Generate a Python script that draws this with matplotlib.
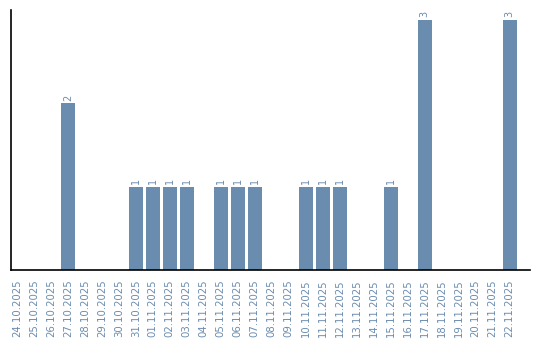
import matplotlib
matplotlib.use("Agg")
import matplotlib.pyplot as plt
import numpy as np

dates = ["24.10.2025", "25.10.2025", "26.10.2025", "27.10.2025", "28.10.2025",
         "29.10.2025", "30.10.2025", "31.10.2025", "01.11.2025", "02.11.2025",
         "03.11.2025", "04.11.2025", "05.11.2025", "06.11.2025", "07.11.2025",
         "08.11.2025", "09.11.2025", "10.11.2025", "11.11.2025", "12.11.2025",
         "13.11.2025", "14.11.2025", "15.11.2025", "16.11.2025", "17.11.2025",
         "18.11.2025", "19.11.2025", "20.11.2025", "21.11.2025", "22.11.2025"]
counts = [0, 0, 0, 2, 0, 0, 0, 1, 1, 1, 1, 0, 1, 1, 1,
          0, 0, 1, 1, 1, 0, 0, 1, 0, 3, 0, 0, 0, 0, 3]

color = "#6a8caf"
fig = plt.figure(figsize=(5.4, 3.4), dpi=100)
ax = fig.add_axes([0.0204, 0.206, 0.961, 0.765])

x = np.arange(len(dates))
bars = ax.bar(x, counts, width=0.82, color=color)
for xi, c in zip(x, counts):
    if c > 0:
        ax.text(xi, c + 0.03, str(c), rotation=90, ha="center", va="bottom",
                fontsize=7, color=color, family="DejaVu Sans")

ax.set_xlim(-0.35, 30.2)
ax.set_ylim(0, 3.12)
ax.set_xticks(x)
ax.set_xticklabels(dates, rotation=90, fontsize=7.3, color=color, family="DejaVu Sans")
ax.tick_params(axis="x", length=0, pad=7)
ax.set_yticks([])
ax.spines["top"].set_visible(False)
ax.spines["right"].set_visible(False)
ax.spines["left"].set_linewidth(1.2)
ax.spines["bottom"].set_linewidth(1.2)

plt.savefig("out.png", dpi=100)
plt.close()
